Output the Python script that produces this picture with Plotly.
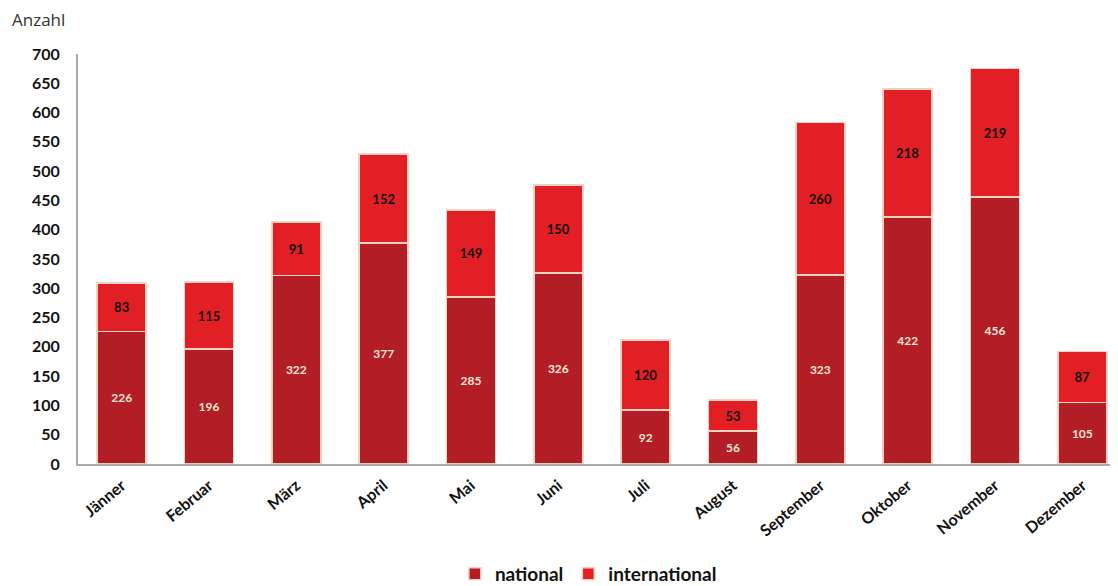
import plotly.graph_objects as go

months = ["Jänner", "Februar", "März", "April", "Mai", "Juni", "Juli", "August",
          "September", "Oktober", "November", "Dezember"]
national = [226, 196, 322, 377, 285, 326, 92, 56, 323, 422, 456, 105]
international = [83, 115, 91, 152, 149, 150, 120, 53, 260, 218, 219, 87]
y_ticks = list(range(0, 701, 50))

FONT = "Lato"

fig = go.Figure()
fig.add_trace(go.Bar(
    x=months, y=national, name="national",
    marker=dict(color="#B31D25", line=dict(color="#F2D3C2", width=1.5)),
    text=[str(v) for v in national], textposition="inside", insidetextanchor="middle",
    textangle=0,
    textfont=dict(family=FONT, size=12, color="#F7E8D8", weight="bold"),
))
fig.add_trace(go.Bar(
    x=months, y=international, name="international",
    marker=dict(color="#E31F26", line=dict(color="#F2D3C2", width=1.5)),
    text=[str(v) for v in international], textposition="inside", insidetextanchor="middle",
    textangle=0,
    textfont=dict(family=FONT, size=13, color="#111111", weight="bold"),
))

fig.update_layout(
    barmode="stack",
    bargap=0.44,
    width=1118, height=586,
    margin=dict(l=70, r=0, t=46, b=130, autoexpand=False),
    plot_bgcolor="white", paper_bgcolor="white",
    font=dict(family=FONT, color="#111111"),
    legend=dict(orientation="h", x=0.487, xanchor="center", y=-0.268, yanchor="middle",
                font=dict(family=FONT, size=19, color="#111111", weight="bold"),
                itemwidth=30, traceorder="normal"),
    annotations=[dict(text="Anzahl", xref="paper", yref="paper", x=-0.065, y=1.083,
                      xanchor="left", yanchor="middle", showarrow=False,
                      font=dict(family="Open Sans", size=17, color="#333333"))],
)
fig.update_xaxes(
    showline=True, linecolor="#AAAAAA", linewidth=2, showgrid=False,
    tickangle=-40, ticks="", automargin=False, ticklabelstandoff=4,
    tickfont=dict(family=FONT, size=16, color="#111111", weight="bold"),
)
fig.update_yaxes(
    range=[0, 700], tickvals=y_ticks, showline=True, linecolor="#AAAAAA", linewidth=2,
    showgrid=False, ticks="", ticklabelstandoff=13, zeroline=False, automargin=False,
    tickfont=dict(family=FONT, size=16, color="#111111", weight="bold"),
)

fig.write_html("out.html")
